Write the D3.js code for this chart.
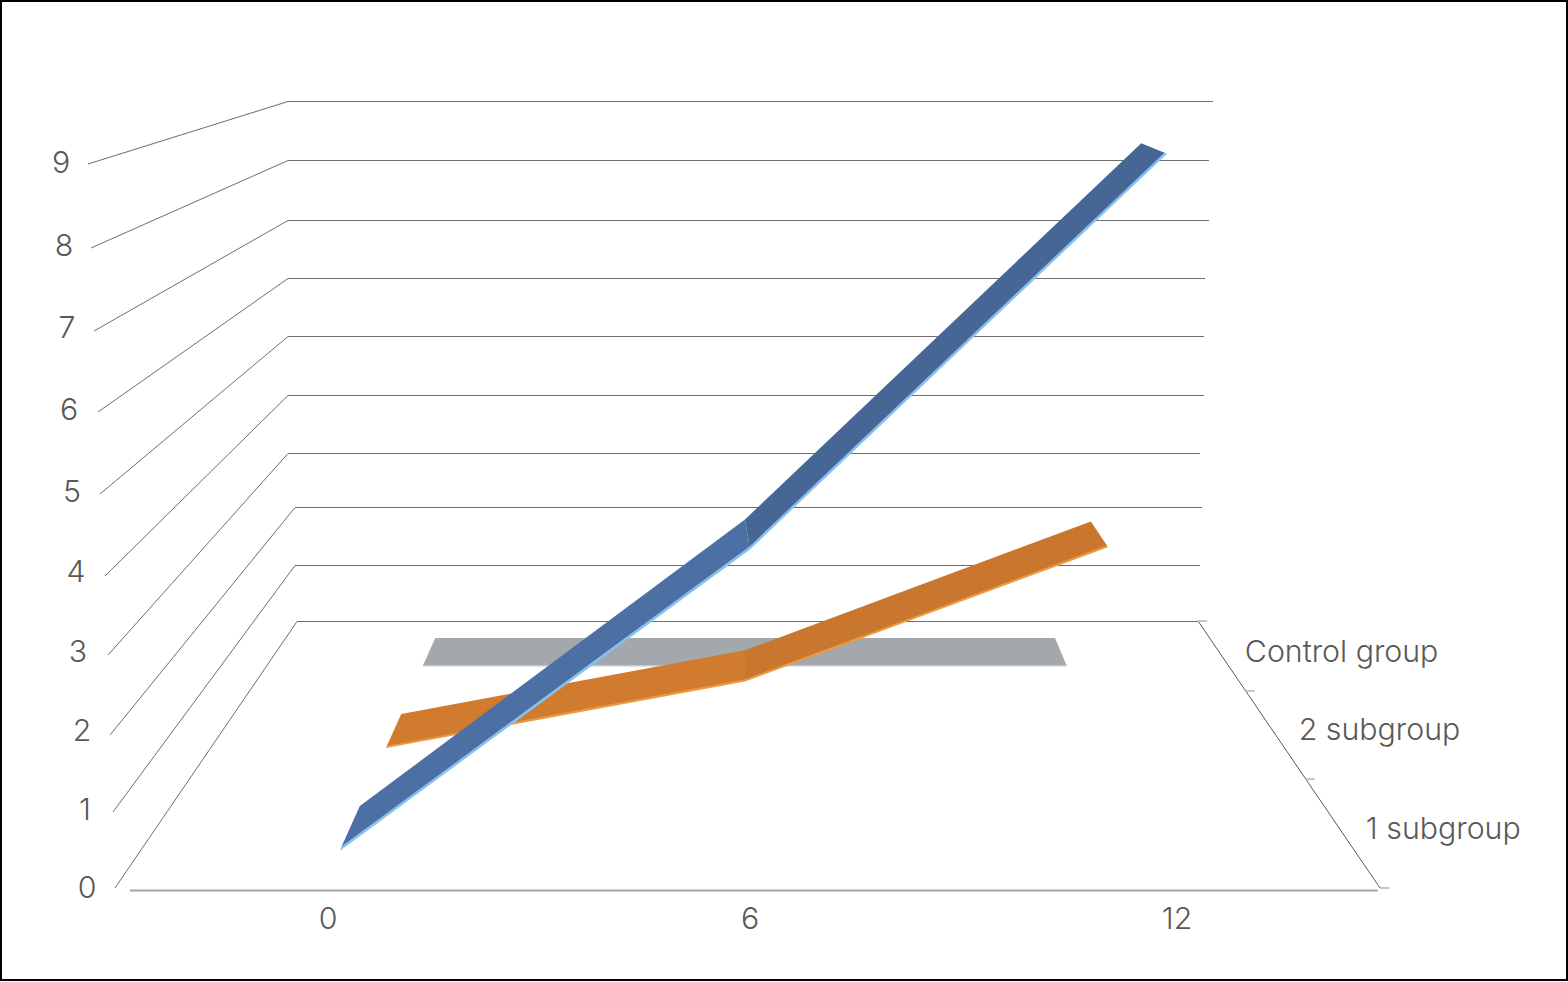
<!DOCTYPE html>
<html><head><meta charset="utf-8">
<script src="https://cdn.jsdelivr.net/npm/d3@7/dist/d3.min.js"></script>
<style>html,body{margin:0;padding:0;background:#fff;overflow:hidden}svg{display:block}
text{font-family:Inter,Roboto,"Liberation Sans",sans-serif;font-weight:300;fill:#595959;font-size:30.3px}</style>
</head><body><svg id="c" width="1568" height="982"></svg>
<script>
// Data
const months = [0, 6, 12];
const valueTicks = [0, 1, 2, 3, 4, 5, 6, 7, 8, 9];
const groups = ["1 subgroup", "2 subgroup", "Control group"];
const subgroup1 = [0, 3.9, 9.02];
const subgroup2 = [0, 0.97, 2.93];
const controlGroup = [0, 0, 0];
const seriesValues = [subgroup1, subgroup2, controlGroup];

// Depth boundaries of the three category bands (0 = front, 1 = back)
const bandEdges = [0, 0.408, 0.738, 1];
const ribbonDepths = [[0.139, 0.307], [0.524, 0.652], [0.83, 0.936]];
const topColors = [["#4d70a4", "#466796"], ["#d17b2f", "#c9772e"], ["#a3a8ac", "#a3a8ac"]];
const edgeColors = ["#8ac0ee", "#ec9a42", "#c4c8cb"];
const edgeDepth = [0.017, 0.009, 0.005];

// Scales of the fake-perspective 3D frame
const floorY = d3.scaleLinear().domain([0, 1]).range([888, 621]);
const unit = d3.scaleLinear().domain([0, 1]).range([80.44, 57.8]);
const floorRightX = d3.scaleLinear().domain([0, 1]).range([1380, 1198]);
const x0 = d3.scaleLinear().domain([0, 1]).range([323, 443]);
const x6 = d3.scaleLinear().domain([0.139, 0.307]).range([750, 745]).clamp(true);
const x12 = d3.scaleLinear().domain([0.139, 0.524, 0.83, 0.936]).range([1167, 1108, 1067, 1055]);
const xAt = t => d3.scaleLinear().domain(months).range([x0(t), x6(t), x12(t)]);
const yAt = (v, t) => floorY(t) - v * unit(t);

const wallFrontX = d3.scaleLinear().domain(valueTicks).range([115,113,110,108,105,100,98,94,91,88]);
const wallFrontY = d3.scaleLinear().domain(valueTicks).range([888,812,735,655,576,494,412,331,248,164]);
const wallBackX = d3.scaleLinear().domain(valueTicks).range([297,295,295,288,288,288,288,288,288,288]);
const wallBackY = d3.scaleLinear().domain(valueTicks).range([621,565,507,453,395,336,278,220,160,101]);
const wallRightX = d3.scaleLinear().domain(valueTicks).range([1198,1200,1202,1200,1204,1204,1205,1209,1209,1213]);
const valueLabelX = d3.scaleLinear().domain(valueTicks).range([87,85,82,78,76,72,69,67,64,61]);
const valueLabelY = d3.scaleLinear().domain(valueTicks).range([887,809,730,651,571,491,409,327,245,162]);
const monthLabelX = d3.scaleLinear().domain(months).range([328, 750, 1177]);

const svg = d3.select("#c");
svg.append("rect").attr("x",1).attr("y",1).attr("width",1566).attr("height",979)
  .attr("fill","#fff").attr("stroke","#000").attr("stroke-width",2);

// Wall gridlines
const line = d3.line();
svg.append("g").selectAll("path").data(valueTicks).join("path")
  .attr("fill","none").attr("stroke","#6e6e6e").attr("stroke-width",1)
  .attr("d", v => line([[wallFrontX(v), wallFrontY(v)], [wallBackX(v), wallBackY(v)+0.5], [wallRightX(v), wallBackY(v)+0.5]]));

// Floor edges
svg.append("line").attr("x1",130).attr("x2",floorRightX(0)-2).attr("y1",890.5).attr("y2",890.5)
  .attr("stroke","#a6a6a6").attr("stroke-width",2);
svg.append("line").attr("x1",floorRightX(0)).attr("y1",floorY(0)).attr("x2",floorRightX(1)).attr("y2",floorY(1))
  .attr("stroke","#5a5a5a").attr("stroke-width",1);
svg.append("g").selectAll("line").data(bandEdges).join("line")
  .attr("x1", t => floorRightX(t)).attr("x2", t => floorRightX(t)+9)
  .attr("y1", t => floorY(t)).attr("y2", t => floorY(t))
  .attr("stroke","#c4c4c4").attr("stroke-width",2);

// Ribbons, back to front
d3.range(seriesValues.length).reverse().forEach(i => {
  const vals = seriesValues[i];
  const [tf, tb] = ribbonDepths[i];
  const pt = (k, t) => [xAt(t)(months[k]), yAt(vals[k], t)];
  const g = svg.append("g");
  g.append("path").attr("fill", edgeColors[i])
    .attr("d", line([0,1,2].map(k => pt(k, tf)).concat([2,1,0].map(k => pt(k, tf + 2*edgeDepth[i])))) + "Z");
  [0, 1].forEach(s => {
    g.append("path").attr("fill", topColors[i][s])
      .attr("d", line([pt(s, tf + edgeDepth[i]), pt(s+1, tf + edgeDepth[i]), pt(s+1, tb), pt(s, tb)]) + "Z");
  });
});

// Labels
svg.append("g").selectAll("text").data(valueTicks).join("text")
  .attr("x", valueLabelX).attr("y", v => valueLabelY(v) + 11)
  .attr("text-anchor","middle").text(d => d);
svg.append("g").selectAll("text").data(months).join("text")
  .attr("x", monthLabelX).attr("y", 929).attr("text-anchor","middle").text(d => d);
svg.append("g").selectAll("text").data(groups).join("text")
  .attr("x", (d,i) => floorRightX((bandEdges[i]+bandEdges[i+1])/2) + 23)
  .attr("y", (d,i) => floorY((bandEdges[i]+bandEdges[i+1])/2) + 5 + (i === 2 ? 1 : 0))
  .text(d => d);
</script></body></html>
